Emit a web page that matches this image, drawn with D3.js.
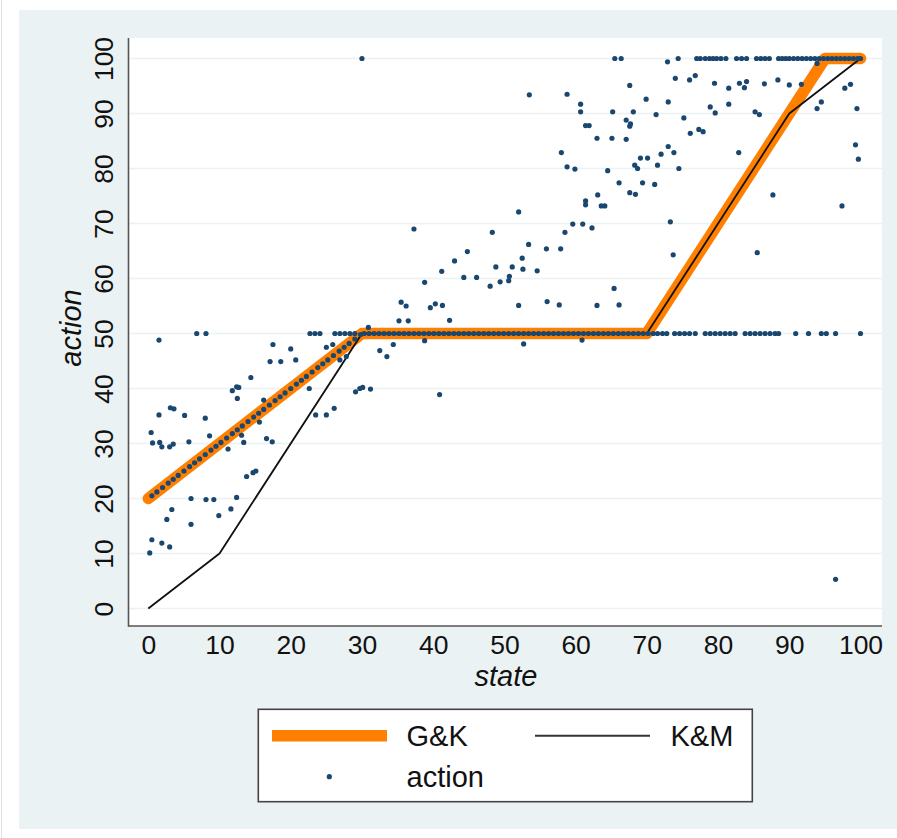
<!DOCTYPE html>
<html>
<head>
<meta charset="utf-8">
<script src="https://cdn.jsdelivr.net/npm/d3@7"></script>
<style>
  html, body { margin: 0; padding: 0; background: #ffffff; }
  svg { display: block; font-family: "Liberation Sans", Arial, Helvetica, sans-serif; }
</style>
</head>
<body>
<svg id="chart" width="897" height="838"></svg>
<script>
// ---------------- DATA ----------------
const xTicks = [0, 10, 20, 30, 40, 50, 60, 70, 80, 90, 100];
const yTicks = [0, 10, 20, 30, 40, 50, 60, 70, 80, 90, 100];

// G&K policy line (state, action)
const gkLine = [[0, 20], [30, 50], [70, 50], [95, 100], [100, 100]];
// K&M policy line (state, action)
const kmLine = [[0, 0], [10, 10], [30, 50], [70, 50], [90, 90], [100, 100]];

// observed actions lying on the rising G&K segment (state, action)
const rampPoints = [
  [0.5,20.5],[1.2,21.2],[2,22],[2.8,22.8],[3.5,23.5],[4.2,24.2],[5,25],[5.8,25.8],
  [6.5,26.5],[7.2,27.2],[8,28],[8.8,28.8],[9.5,29.5],[10.2,30.2],[11,31],[11.8,31.8],
  [12.5,32.5],[13.2,33.2],[14,34],[14.8,34.8],[15.5,35.5],[16.2,36.2],[17,37],[17.8,37.8],
  [18.5,38.5],[19.2,39.2],[20,40],[20.8,40.8],[21.5,41.5],[22.2,42.2],[23,43],[23.8,43.8],
  [24.5,44.5],[25.2,45.2],[26,46],[26.8,46.8],[27.5,47.5],[28.2,48.2],[29,49],[29.8,49.8]
];

// states of observations with action = 50
const action50States = [
  22.7,23.4,24.1,26.2,26.9,27.6,28.3,29,30.3,31,31.7,32.4,33.1,33.8,34.5,35.2,35.9,36.6,
  37.3,38,38.7,39.4,40.1,40.8,41.5,42.2,42.9,43.6,44.3,45,45.7,46.4,47.1,47.8,48.5,49.2,
  49.9,50.6,51.3,52,52.7,53.4,54.1,54.8,55.5,56.2,56.9,57.6,58.3,59,59.7,60.4,61.1,61.8,
  62.5,63.2,63.9,64.6,65.3,66,66.7,67.4,68.1,68.8,69.5,70.2,70.9,71.5,72.2,72.8,73.9,74.6,
  75.3,76,76.8,78.2,78.9,79.6,80.3,81,81.7,82.4,83.8,84.5,85.2,85.9,86.6,87.3,88,88.5,
  90.9,92.7,94.5,95.2,96.5,100
];

// states of observations with action = 100
const action100States = [
  30,65.5,66.4,74.4,77,77.5,78.2,78.8,79.3,79.8,80.4,81.1,82.6,83.3,84,85.4,86,86.6,87.2,
  88.5,89,89.5,90,90.6,91.2,91.8,92.4,93,93.6,94.2,94.8,95.4,96,96.6,97.2,97.8,98.4,99,99.6,100
];

// remaining scattered observations (state, action)
const scatterPoints = [
  [1.5,48.8],[6.8,50],[8.1,50],[17.5,48],[20,47.2],[17.1,44.9],[18.6,44.9],[20.7,45.2],
  [14.4,42],[11.8,39.6],[12.4,40.3],[12.7,40.2],[12.5,38.2],[16.2,37.9],[22.6,40],
  [23.5,35.2],[25,35.2],[26.1,36.4],[3.1,36.5],[3.6,36.3],[1.5,35.2],[5.1,35.1],[8,34.6],
  [0.4,32],[0.6,30.1],[1.6,30.2],[1.9,29.4],[3,29.4],[3.5,29.9],[5.7,30.3],[8.6,31.4],
  [11.2,29],[13.4,30.2],[13.1,31.5],[15.6,33.9],[16.6,30.9],[17.4,30.3],[13.8,24],
  [14.7,24.7],[15.1,25],[6,20],[8.1,19.8],[9.2,19.8],[12.4,20.2],[3.3,18],[2.6,16.2],
  [6,15.3],[9.9,16.9],[11.6,18.1],[0.5,12.5],[1.9,11.9],[3,11.2],[0.2,10.1],
  [25,47.5],[25.9,48],[26.9,45.2],[27.8,45.8],[29.1,39.4],[29.7,40],[30.1,40.2],[31.2,39.9],
  [40.9,38.9],[32.5,46.9],[33.5,45.8],[34.4,48],[38.8,48.7],[52.7,48.1],[60.9,48.8],
  [30.9,51.1],[35.2,52.3],[36.5,52.3],[42.3,52.4],[35.5,55.7],[36.2,55],[39.6,54.7],
  [40.3,55.4],[41.3,55.1],[52,55.1],[56,55.8],[57.7,55.2],[63,55.1],[66.1,55.2],[65.4,58.2],
  [38.8,59.3],[48,58.6],[49.4,59.4],[50.6,59.6],[50.7,60.4],[44.3,60.2],[46.1,60.2],
  [41.2,61.3],[48.8,62.1],[51.1,62.1],[52.6,61.7],[54.6,61.4],[43,63.2],[44.8,64.9],
  [52.5,63.7],[53.4,66.2],[55.9,65.4],[57.9,65.4],[37.3,69],[48.3,68.4],[58.5,68.4],
  [59.6,69.9],[61,69.9],[62.3,69.2],[52,72.1],[61.4,73.4],[61.4,74.1],[63.1,75.2],
  [63.6,73.2],[64.1,73.2],[58,82.9],[58.8,80.3],[59.9,79.9],[63,85.5],[61.4,87.8],
  [61.9,87.8],[60.7,91.7],[60.7,90.3],[53.5,93.4],[58.8,93.5],
  [72.9,99.4],[74,96.4],[76,96.1],[76.8,96.9],[67.6,95.1],[79.5,95.5],[81.5,94.6],[83,95.5],
  [83.7,94.7],[84,95.8],[86.5,95.4],[88.4,96.1],[90,95.2],[91.7,95.3],[97.8,94.6],[98.6,95.3],
  [93.9,99.1],[69.9,92.6],[73,92.1],[65.2,90.3],[68.1,90.3],[71.3,89.8],[75.2,89.2],
  [78.9,91.2],[79.6,90.1],[81.5,91.7],[85.2,90.3],[85.8,89.8],[93.9,90.9],[94.5,92.1],
  [99.5,90.9],[67.1,88.8],[67.6,87.7],[67.7,88.1],[65.1,85.5],[67.1,85.3],[76.1,86.4],
  [77.3,87.1],[77.9,86.7],[73,84],[73.8,82.9],[74.5,80],[69.1,81.9],[70.1,81.9],[72,82.6],
  [68.3,80.6],[68.7,80],[71.5,80.6],[64.5,79.6],[66.1,77.4],[69.4,77.4],[71.1,77.1],
  [67.6,75.6],[68.4,75.3],[73.3,70.3],[73.7,64.3],[82.9,82.9],[87.7,75.2],[85.5,64.7],
  [97.4,73.2],[99.3,84.3],[99.7,81.7],[96.5,5.3]
];

// ---------------- DRAW ----------------
const svg = d3.select("#chart");
const bg = "#eaf2f3";

svg.append("rect").attr("x", 1).attr("y", 0).attr("width", 1).attr("height", 838).attr("fill", "#dde3e4");
svg.append("rect").attr("x", 19).attr("y", 10).attr("width", 878).attr("height", 819).attr("fill", bg);

const plot = { left: 128.5, right: 882, top: 38, bottom: 626 };
svg.append("rect").attr("x", plot.left).attr("y", plot.top)
  .attr("width", plot.right - plot.left).attr("height", plot.bottom - plot.top).attr("fill", "#ffffff");

const x = d3.scaleLinear().domain([0, 100]).range([148.3, 860.5]);
const y = d3.scaleLinear().domain([0, 100]).range([608.5, 58.5]);

// gridlines
svg.append("g").selectAll("line").data(yTicks).join("line")
  .attr("x1", plot.left).attr("x2", plot.right)
  .attr("y1", d => y(d)).attr("y2", d => y(d))
  .attr("stroke", bg).attr("stroke-width", 1.6);

// axes
const xAxis = svg.append("g").attr("transform", `translate(0,${plot.bottom})`)
  .call(d3.axisBottom(x).tickValues(xTicks).tickSize(0).tickPadding(9));
xAxis.select(".domain").remove();
xAxis.selectAll("text").attr("font-size", 26.5).attr("fill", "#111")
  .attr("font-family", "Liberation Sans, Arial, sans-serif");

const yAxis = svg.append("g").attr("transform", `translate(${plot.left},0)`)
  .call(d3.axisLeft(y).tickValues(yTicks).tickSize(0));
yAxis.select(".domain").remove();
yAxis.selectAll("text")
  .attr("x", null).attr("dy", null)
  .attr("text-anchor", "middle")
  .attr("transform", "translate(-16,0) rotate(-90)")
  .attr("font-size", 26.5).attr("fill", "#111")
  .attr("font-family", "Liberation Sans, Arial, sans-serif");

svg.append("line").attr("x1", plot.left).attr("x2", plot.left)
  .attr("y1", plot.top).attr("y2", plot.bottom + 0.8).attr("stroke", "#555").attr("stroke-width", 1.6);
svg.append("line").attr("x1", plot.left).attr("x2", plot.right)
  .attr("y1", plot.bottom).attr("y2", plot.bottom).attr("stroke", "#555").attr("stroke-width", 1.6);

// titles
svg.append("text").attr("x", 506).attr("y", 686).attr("text-anchor", "middle")
  .attr("font-size", 29).attr("font-style", "italic").attr("fill", "#111").text("state");
svg.append("text").attr("transform", "translate(81,328) rotate(-90)").attr("text-anchor", "middle")
  .attr("font-size", 29).attr("font-style", "italic").attr("fill", "#111").text("action");

// lines
const line = d3.line().x(d => x(d[0])).y(d => y(d[1]));
svg.append("path").datum(gkLine).attr("d", line).attr("fill", "none")
  .attr("stroke", "#ff7f00").attr("stroke-width", 11.5)
  .attr("stroke-linejoin", "round").attr("stroke-linecap", "round");
svg.append("path").datum(kmLine).attr("d", line).attr("fill", "none")
  .attr("stroke", "#111").attr("stroke-width", 1.8).attr("stroke-linejoin", "round");

// points
const allPoints = []
  .concat(rampPoints)
  .concat(action50States.map(s => [s, 50]))
  .concat(action100States.map(s => [s, 100]))
  .concat(scatterPoints);
svg.append("g").selectAll("circle").data(allPoints).join("circle")
  .attr("cx", d => x(d[0])).attr("cy", d => y(d[1])).attr("r", 2.6)
  .attr("fill", "#1a476f");

// legend
const lg = svg.append("g");
lg.append("rect").attr("x", 258.3).attr("y", 709.3).attr("width", 494).attr("height", 92.4)
  .attr("fill", "#fff").attr("stroke", "#444").attr("stroke-width", 1.6);
lg.append("line").attr("x1", 272).attr("x2", 387).attr("y1", 735.7).attr("y2", 735.7)
  .attr("stroke", "#ff7f00").attr("stroke-width", 11.5);
lg.append("text").attr("x", 406.5).attr("y", 746).attr("font-size", 29).attr("fill", "#111").text("G&K");
lg.append("line").attr("x1", 535).attr("x2", 650).attr("y1", 735.7).attr("y2", 735.7)
  .attr("stroke", "#333").attr("stroke-width", 2);
lg.append("text").attr("x", 670.5).attr("y", 746).attr("font-size", 29).attr("fill", "#111").text("K&M");
lg.append("circle").attr("cx", 329.3).attr("cy", 776.7).attr("r", 2.6).attr("fill", "#1a476f");
lg.append("text").attr("x", 406.5).attr("y", 787).attr("font-size", 29).attr("fill", "#111").text("action");
</script>
</body>
</html>
